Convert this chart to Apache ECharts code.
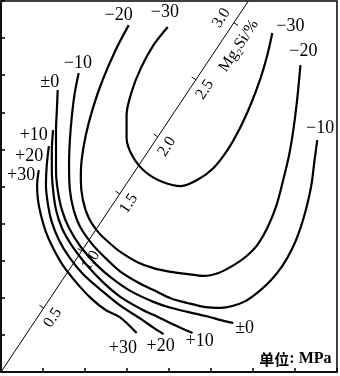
<!DOCTYPE html>
<html>
<head>
<meta charset="utf-8">
<script src="https://cdn.jsdelivr.net/npm/echarts@6/dist/echarts.min.js"></script>
<style>
html, body { margin: 0; padding: 0; background: #fff; }
#main { width: 340px; height: 376px; }
</style>
</head>
<body>
<div id="main"></div>
<script>
// contour lines (frame units: x 0-8, y 0-10)
var cM30 = [[3.97,9.30],[3.63,8.81],[3.33,8.19],[3.11,7.55],[2.99,6.93],[2.99,6.31],[3.14,5.80],[3.44,5.39],[3.85,5.12],[4.28,5.01],[4.68,5.18],[5.06,5.50],[5.39,5.98],[5.70,6.60],[5.96,7.25],[6.18,7.92],[6.34,8.54],[6.46,9.14]];
var cM20 = [[3.04,9.35],[2.73,8.68],[2.42,7.87],[2.19,7.12],[2.02,6.39],[1.92,5.71],[1.90,5.18],[1.95,4.64],[2.09,4.15],[2.33,3.75],[2.61,3.45],[2.85,3.23],[3.25,2.96],[3.63,2.80],[4.04,2.70],[4.44,2.64],[4.82,2.59],[5.18,2.67],[5.51,2.86],[5.82,3.10],[6.10,3.42],[6.34,3.88],[6.56,4.50],[6.72,5.18],[6.86,5.85],[6.96,6.52],[7.05,7.33],[7.13,8.27]];
var cM10 = [[1.85,8.06],[1.76,7.55],[1.69,6.93],[1.64,6.25],[1.62,5.58],[1.64,4.91],[1.73,4.37],[1.90,3.88],[2.19,3.42],[2.49,3.07],[2.85,2.70],[3.33,2.37],[3.63,2.21],[4.04,1.99],[4.44,1.86],[4.87,1.75],[5.23,1.73],[5.51,1.78],[5.82,1.91],[6.13,2.16],[6.41,2.45],[6.70,2.86],[6.94,3.34],[7.13,3.88],[7.27,4.42],[7.39,5.04],[7.46,5.66],[7.53,6.25]];
var c0 = [[1.35,7.60],[1.33,7.06],[1.31,6.52],[1.31,5.98],[1.31,5.44],[1.35,4.91],[1.45,4.37],[1.62,3.88],[1.90,3.37],[2.28,2.88],[2.66,2.51],[3.09,2.18],[3.63,1.89],[4.04,1.73],[4.44,1.62],[4.87,1.51],[5.23,1.40],[5.53,1.32]];
var cP10 = [[1.24,6.52],[1.21,5.98],[1.21,5.44],[1.24,4.91],[1.31,4.37],[1.45,3.88],[1.69,3.40],[2.02,2.91],[2.42,2.43],[2.85,2.02],[3.33,1.70],[3.63,1.54],[4.09,1.29],[4.56,1.05]];
var cP20 = [[1.14,6.09],[1.09,5.58],[1.07,5.04],[1.12,4.50],[1.21,4.04],[1.38,3.56],[1.62,3.10],[1.95,2.64],[2.38,2.21],[2.85,1.78],[3.33,1.43],[3.61,1.21],[3.87,1.02]];
var cP30 = [[0.90,5.44],[0.86,5.04],[0.88,4.64],[0.95,4.23],[1.07,3.77],[1.24,3.34],[1.47,2.88],[1.78,2.43],[2.14,1.99],[2.49,1.67],[2.85,1.46],[3.23,1.05]];

// contour labels
var labelTexts = ['−20','−30','−30','−20','−10','−10','±0','+10','+20','+30','+30','+20','+10','±0'];
var labelPos = [[2.80,9.62],[3.90,9.70],[6.89,9.33],[7.20,8.65],[7.60,6.58],[1.83,8.33],[1.16,7.82],[0.78,6.39],[0.67,5.82],[0.48,5.31],[2.90,0.65],[3.80,0.70],[4.73,0.84],[5.80,1.19]];

// diagonal Mg2Si axis
var diagEnd = [5.89, 10];
var diagMin = -0.06, diagMax = 3.19;
var diagTicks = [0.5, 1.0, 1.5, 2.0, 2.5, 3.0];
var diagTickLabels = ['0.5', '1.0', '1.5', '2.0', '2.5', '3.0'];
var diagSide = [1, 1, 1, 1, 1, -1];   // 1: label below right, -1: label above left
var diagTitleAt = 2.88;

var font = "'Liberation Serif', 'DejaVu Serif', serif";

function diagGeom(api, m) {
    var f = (m - diagMin) / (diagMax - diagMin);
    var p = api.coord([diagEnd[0] * f, diagEnd[1] * f]);
    var p0 = api.coord([0, 0]), p1 = api.coord(diagEnd);
    var len = Math.sqrt((p1[0] - p0[0]) * (p1[0] - p0[0]) + (p1[1] - p0[1]) * (p1[1] - p0[1]));
    var ux = (p1[0] - p0[0]) / len, uy = (p1[1] - p0[1]) / len;
    return { p: p, ux: ux, uy: uy, nx: -uy, ny: ux, rot: Math.atan2(-uy, ux) };
}

function renderDiag(params, api) {
    var i = params.dataIndex;
    var g = diagGeom(api, api.value(0));
    var s = diagSide[i];
    return {
        type: 'group',
        children: [{
            type: 'line',
            shape: { x1: g.p[0], y1: g.p[1], x2: g.p[0] - s * 5 * g.nx, y2: g.p[1] - s * 5 * g.ny },
            style: { stroke: '#000', lineWidth: 1 }
        }, {
            type: 'text',
            x: g.p[0] + s * 13 * g.nx - 3 * g.ux,
            y: g.p[1] + s * 13 * g.ny - 3 * g.uy,
            rotation: g.rot,
            style: { text: diagTickLabels[i], fontSize: 16, fontFamily: font, fill: '#000', align: 'center', verticalAlign: 'middle' }
        }]
    };
}

function renderDiagTitle(params, api) {
    var g = diagGeom(api, api.value(0));
    return {
        type: 'text',
        x: g.p[0] + 17 * g.nx,
        y: g.p[1] + 17 * g.ny,
        rotation: g.rot,
        style: { text: 'Mg₂Si/%', fontSize: 16, fontFamily: font, fill: '#000', align: 'center', verticalAlign: 'middle' }
    };
}

function renderLabel(params, api) {
    var p = api.coord([api.value(0), api.value(1)]);
    return {
        type: 'text', x: p[0], y: p[1],
        style: { text: labelTexts[params.dataIndex], fontSize: 18, fontFamily: font, fill: '#000', align: 'center', verticalAlign: 'middle' }
    };
}

function renderUnit(params, api) {
    var p = api.coord([api.value(0), api.value(1)]);
    return {
        type: 'text', x: p[0], y: p[1],
        style: {
            text: '{cn|单位}: MPa', fontSize: 16, fontFamily: font, fontWeight: 'bold', fill: '#000',
            align: 'center', verticalAlign: 'middle',
            rich: { cn: { fontFamily: 'Noto Sans CJK SC', fontSize: 15, fontWeight: 'bold', fill: '#000' } }
        }
    };
}

function contour(name, data) {
    return {
        name: name, type: 'line', data: data, smooth: 0.3, symbol: 'none',
        lineStyle: { color: '#000', width: 2.2 }, silent: true
    };
}

var myChart = echarts.init(document.getElementById('main'));
var axisCommon = {
    type: 'value',
    axisLine: { show: true, lineStyle: { color: '#000', width: 1.5 } },
    axisTick: { show: true, inside: true, length: 4, lineStyle: { color: '#000', width: 1.5 } },
    axisLabel: { show: false },
    splitLine: { show: false }
};
var option = {
    animation: false,
    grid: { left: 1, right: 3, top: 1, bottom: 4, show: true, borderColor: '#000', borderWidth: 1.5 },
    xAxis: Object.assign({ min: 0, max: 8, interval: 1 }, axisCommon),
    yAxis: Object.assign({ min: 0, max: 10, interval: 1 }, axisCommon),
    series: [
        contour('-30', cM30),
        contour('-20', cM20),
        contour('-10', cM10),
        contour('0', c0),
        contour('+10', cP10),
        contour('+20', cP20),
        contour('+30', cP30),
        {
            name: 'diag', type: 'line', data: [[0, 0], diagEnd], symbol: 'none',
            lineStyle: { color: '#000', width: 1 }, silent: true
        },
        { type: 'custom', renderItem: renderDiag, data: diagTicks.map(function (v) { return [v]; }), silent: true },
        { type: 'custom', renderItem: renderDiagTitle, data: [[diagTitleAt]], silent: true },
        { type: 'custom', renderItem: renderLabel, data: labelPos, silent: true },
        { type: 'custom', renderItem: renderUnit, data: [[7.01, 0.35]], silent: true }
    ]
};
myChart.setOption(option);
</script>
</body>
</html>
